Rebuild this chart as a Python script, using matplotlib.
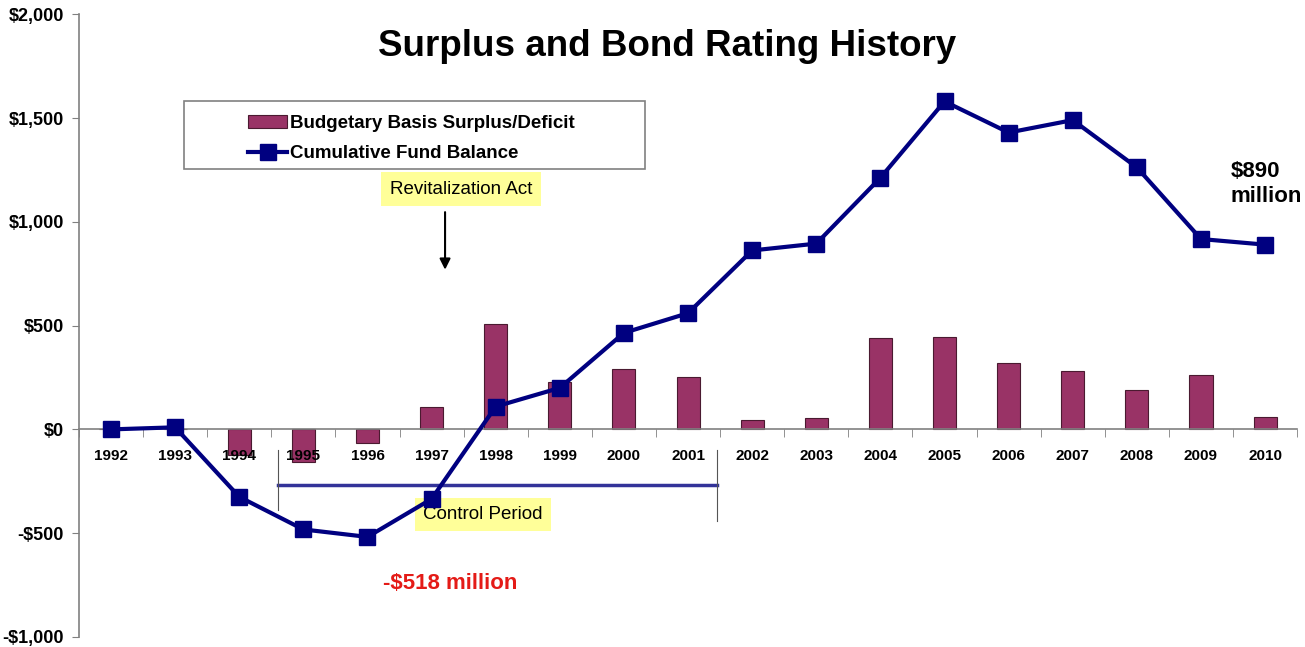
import matplotlib.pyplot as plt
from matplotlib.patches import Rectangle
from matplotlib.ticker import FuncFormatter, MultipleLocator
import numpy as np

plt.rcParams['font.family'] = ['Liberation Sans', 'DejaVu Sans']

# Data (millions of dollars)
years = ['1992', '1993', '1994', '1995', '1996', '1997', '1998', '1999', '2000', '2001',
         '2002', '2003', '2004', '2005', '2006', '2007', '2008', '2009', '2010']
surplus = [0, 0, -125, -155, -65, 110, 510, 230, 290, 250,
           45, 55, 440, 445, 322, 279, 188, 260, 58]
fund_balance = [0, 10, -325, -482, -518, -335, 110, 200, 465, 560,
                862, 895, 1212, 1580, 1430, 1490, 1262, 917, 890]

BAR_COLOR = '#993366'
LINE_COLOR = '#000080'
BOX_COLOR = '#FFFF99'

fig = plt.figure(figsize=(13.05, 6.47), dpi=100)
ax = fig.add_axes([0.0605, 0.0155, 0.9335, 0.9625])

x = np.arange(len(years))
bars = ax.bar(x, surplus, width=0.36, color=BAR_COLOR, edgecolor='#4a1a30',
              linewidth=0.8, label='Budgetary Basis Surplus/Deficit', zorder=1)
line, = ax.plot(x, fund_balance, color=LINE_COLOR, linewidth=3, marker='s',
                markersize=11, label='Cumulative Fund Balance', zorder=3)

ax.set_xlim(-0.5, len(years) - 0.5)
ax.set_ylim(-1000, 2000)

# axes styling
for side in ['top', 'right']:
    ax.spines[side].set_visible(False)
ax.spines['bottom'].set_position(('data', 0))
ax.spines['bottom'].set_color('#808080')
ax.spines['left'].set_color('#808080')
ax.spines['bottom'].set_linewidth(1.2)
ax.spines['left'].set_linewidth(1.2)

ax.yaxis.set_major_locator(MultipleLocator(500))
ax.yaxis.set_major_formatter(FuncFormatter(
    lambda v, p: f'-${abs(v):,.0f}' if v < 0 else f'${v:,.0f}'))
ax.tick_params(axis='y', direction='out', length=5, color='#808080', pad=6,
               labelsize=13)
for lbl in ax.get_yticklabels():
    lbl.set_fontweight('bold')

ax.set_xticks(x)
ax.set_xticklabels(years, fontweight='bold', fontsize=11)
ax.set_xticks(np.arange(-0.5, len(years), 1), minor=True)
ax.tick_params(axis='x', which='major', length=0, pad=14)
ax.tick_params(axis='x', which='minor', direction='out', length=6, color='#808080')

# title
fig.text(0.511, 0.928, 'Surplus and Bond Rating History', ha='center', va='center',
         fontsize=26.5, fontweight='bold')

# legend with rectangular box
ax.add_patch(Rectangle((0.141, 0.739), 0.353, 0.105, transform=fig.transFigure,
                       facecolor='white', edgecolor='#808080', linewidth=1.2,
                       zorder=5, clip_on=False))
leg = ax.legend(handles=[bars, line], loc='upper left',
                bbox_to_anchor=(0.177, 0.849), bbox_transform=fig.transFigure,
                frameon=False, prop={'weight': 'bold', 'size': 13.5},
                handlelength=2.1, handletextpad=0.15, labelspacing=0.72)
leg.set_zorder(6)

# Revitalization Act annotation
ax.text(5.46, 1157, 'Revitalization Act', ha='center', va='center', fontsize=13.5,
        bbox=dict(boxstyle='square,pad=0.45', facecolor=BOX_COLOR, edgecolor='none'),
        zorder=6)
ax.annotate('', xy=(5.21, 756), xytext=(5.21, 1060),
            arrowprops=dict(arrowstyle='-|>', color='black', lw=1.5, mutation_scale=16))

# Control period bracket
ax.plot([2.6, 9.45], [-270, -270], color='#333399', linewidth=2.5, zorder=2)
ax.plot([2.6, 2.6], [-100, -390], color='#555555', linewidth=0.8, zorder=2)
ax.plot([9.45, 9.45], [-100, -440], color='#555555', linewidth=0.8, zorder=2)
ax.text(5.8, -410, 'Control Period', ha='center', va='center', fontsize=13.5,
        bbox=dict(boxstyle='square,pad=0.45', facecolor=BOX_COLOR, edgecolor='none'),
        zorder=2.5)

# value callouts
ax.text(5.29, -742, '-$518 million', ha='center', va='center', fontsize=16,
        fontweight='bold', color='#E41B17')
ax.text(17.46, 1292, '$890\nmillion', ha='left', va='top', fontsize=16,
        fontweight='bold', color='black', linespacing=1.25)

fig.savefig('out.png', dpi=100, facecolor='white')
